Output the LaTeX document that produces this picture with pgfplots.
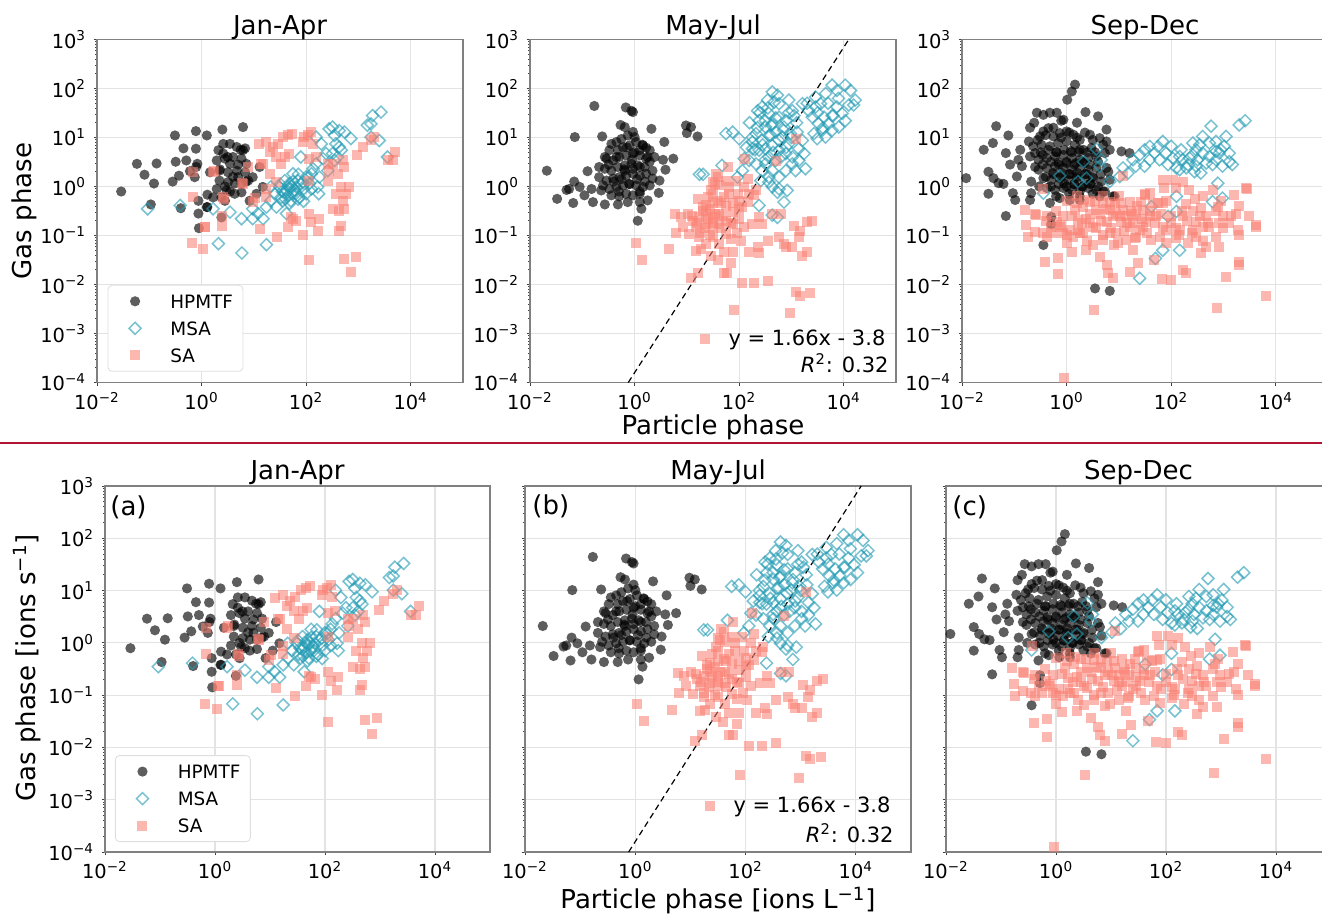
\documentclass[border=0pt]{standalone}
\usepackage{fontspec}
\setmainfont{DejaVu Sans}
\usepackage{pgfplots}
\usepackage{pgfplotstable}
\pgfplotsset{compat=1.18}

\definecolor{msacol}{RGB}{35,155,180}
\definecolor{sacol}{RGB}{250,128,114}
\definecolor{sepred}{RGB}{178,18,52}

\newcommand{\tp}[1]{10\textsuperscript{#1}}
\newcommand{\ftick}{\fontsize{9.7}{11.6}\selectfont}
\newcommand{\flab}{\fontsize{13}{15.6}\selectfont}
\newcommand{\fleg}{\fontsize{9.2}{11}\selectfont}
\newcommand{\fann}{\fontsize{10.5}{12.6}\selectfont}

% ---------- Jan-Apr ----------
\pgfplotstableread{
x y
0.029 0.79
0.058 2.9
0.081 1.74
0.123 1.15
0.138 2.95
0.107 0.43
0.31 11
0.32 3.2
0.28 1.26
0.37 1.66
0.45 6.0
0.40 0.36
0.78 13.5
0.78 5.9
1.26 11
0.51 3.4
0.83 2.9
0.74 1.55
1.29 0.68
0.87 0.51
0.87 0.28
0.89 0.141
1.29 0.38
2.5 14.5
6.2 16.3
2.4 0.234
2.1 5.5
2.6 7.4
3.5 7.4
4.7 6.4
6.2 5.5
1.95 3.4
2.8 3.7
4.0 4.0
5.8 3.7
7.2 2.9
2.2 2.1
3.2 1.95
4.7 2.1
6.8 1.95
2.2 1.32
3.2 1.23
4.3 1.15
5.8 1.15
7.8 1.32
1.95 0.89
3.0 0.83
4.3 0.71
5.8 0.76
2.8 0.51
8.3 0.51
11.2 0.71
14.8 0.98
9.5 1.55
12.9 2.5
1.45 1.95
1.66 0.60
0.79 2.5
0.60 2.05
1.26 0.38
3.5 2.9
2.6 4.7
5.0 1.55
2.4 0.60
6.8 6.0
2.24 2.24
3.16 4.0
4.0 1.58
5.0 2.8
7.1 1.26
2.8 1.0
5.6 5.6
3.5 0.79
}\hA
\pgfplotstableread{
x y
0.093 0.35
0.39 0.41
2.1 0.068
5.9 0.044
17.4 0.065
1.66 0.35
3.5 0.30
5.8 0.22
9.5 0.22
12 0.28
15 0.22
17.4 0.38
21 0.51
27 0.38
33 0.60
42 0.28
48 0.45
56 0.71
42 0.83
65 0.98
74 0.60
87 1.23
100 0.71
126 1.82
155 2.9
166 0.98
174 0.71
79 4.0
56 1.82
39 1.32
31 0.98
48 1.15
69 1.32
25 0.71
21 0.98
51 0.51
36 0.51
115 1.15
155 10.2
195 7.4
240 4.7
275 15
320 16.3
350 11
430 13.8
540 12.9
720 9.5
370 7.4
320 4.7
470 5.5
350 3.4
430 6.4
210 3.7
135 2.3
1480 17.8
1740 19
1860 28
2700 33
2500 8.7
3600 4.0
1740 10.2
400 4.0
260 2.1
180 1.55
9.5 0.35
45 0.65
60 0.85
52 1.0
38 0.75
70 0.55
90 0.9
110 1.5
35 0.79
45 1.0
56 1.26
40 0.56
63 0.71
50 0.89
79 1.12
100 1.58
71 1.78
32 1.12
126 0.89
89 0.50
}\mA
\pgfplotstableread{
x y
0.66 0.069
1.07 0.054
0.69 1.95
0.68 0.60
1.17 0.148
1.66 1.95
2.5 0.158
2.5 0.245
2.7 0.56
6.2 1.15
7.8 2.5
9.5 0.48
12.9 0.135
12.3 7.2
15 2.9
17.4 8.1
20 5.0
20 1.82
23 6.4
29 7.4
36 10.2
45 11
54 12
27 4.0
33 2.9
39 4.0
48 4.7
27 1.23
17.4 0.60
28 0.095
45 0.148
56 0.22
65 0.20
87 0.10
115 0.28
126 0.19
166 0.126
174 0.22
115 0.031
115 1.32
87 8.1
107 11
126 12.9
93 10.2
135 7.4
155 4.0
260 2.9
275 2.1
320 2.9
260 1.32
400 1.82
500 3.4
540 2.5
370 0.71
470 0.98
580 0.71
670 0.98
500 0.51
320 0.35
430 0.32
540 0.35
470 0.158
430 0.126
540 0.033
890 0.037
720 0.018
950 4.3
1200 6.4
1740 8.7
2000 10.2
3600 3.4
4500 3.4
5100 5.0
115 3.7
6.0 1.17
10.5 0.58
1.15 0.15
2.6 0.62
1.74 2.1
13.8 2.9
17.4 0.89
51 0.234
}\sA

% ---------- May-Jul ----------
\pgfplotstableread{
x y
0.021 2.1
0.033 0.56
0.050 0.85
0.056 0.89
0.067 0.46
0.072 10.2
0.070 1.26
0.089 0.98
0.11 0.66
0.126 2.05
0.16 0.48
0.17 44
0.15 0.89
0.24 10.5
0.23 0.83
0.27 0.43
0.21 2.5
0.27 4.0
0.36 7.4
0.48 0.43
0.54 18
0.68 41
0.87 35
0.93 33
0.65 16.3
0.93 13
1.26 0.48
1.15 0.20
1.35 0.35
1.78 0.52
2.1 15
2.9 0.74
3.0 1.32
3.9 2.2
3.7 8.1
3.5 3.5
5.5 3.7
9.6 17.6
12 16.3
10 12.3
16 10.5
1.66 6.2
2.2 2.1
0.33 5.5
0.45 8.1
0.60 6.3
0.80 6.9
1.07 8.1
1.45 6.9
1.95 5.5
2.4 4.0
0.29 3.7
0.39 3.4
0.51 4.0
0.69 4.3
0.93 4.7
1.26 4.3
1.66 3.7
0.27 2.3
0.36 2.1
0.48 2.5
0.65 2.7
0.87 2.9
1.15 2.7
1.55 2.5
1.95 3.2
0.21 1.55
0.29 1.32
0.39 1.45
0.51 1.55
0.69 1.66
0.93 1.82
1.26 1.66
1.66 1.82
2.2 1.45
0.25 1.05
0.33 0.89
0.45 0.98
0.60 1.05
0.80 1.12
1.07 1.05
1.45 0.98
1.95 1.05
0.36 0.66
0.51 0.63
0.69 0.71
0.93 0.66
1.26 0.71
0.74 0.48
0.56 9.3
0.74 11
1.0 10.2
1.26 5.5
0.65 2.1
0.93 2.3
0.48 5.5
0.32 2.8
0.45 4.0
0.63 2.24
0.89 3.5
1.26 2.5
1.78 4.0
0.40 1.26
0.56 1.41
0.79 1.12
1.12 1.41
1.58 1.26
0.71 6.3
1.0 5.0
1.41 7.1
0.50 0.79
1.26 0.79
}\hB
\pgfplotstableread{
x y
17.4 1.77
20.4 1.77
47 2.7
56 12
75 12.9
100 9.4
125 3.7
138 6.3
180 5.9
240 0.41
260 1.32
370 1.23
430 0.98
540 0.76
720 0.48
830 0.83
540 0.234
225 35
430 85
540 73
580 49
370 31
240 22
320 16.3
430 19
580 26
780 22
1040 35
210 12
275 8.7
370 11
500 12.9
670 10.2
890 7.4
180 8.1
240 5.5
320 5.9
430 6.9
580 5.5
780 4.7
1040 4.0
1380 3.4
1860 2.3
1740 4.7
155 3.4
210 2.9
320 2.9
430 2.1
275 2.1
780 2.1
1040 2.9
1200 2.1
1620 8.7
1380 5.9
1290 12.9
1620 49
2150 35
2900 67
3600 49
4500 79
6000 117
7400 91
10700 117
13500 91
16600 58
15500 46
12500 46
10700 22
9300 31
7400 42
6000 28
5100 19
4200 26
3300 19
2700 12
4500 10.2
6000 14
8000 16.3
2500 26
2900 42
3900 14
3100 9.4
960 12
720 16.3
890 58
470 53
275 42
350 58
1120 28
500 3.4
370 4.0
580 1.55
370 1.55
115 2.1
93 1.55
430 0.26
580 0.89
178 10
224 15.8
282 7.1
316 22
400 11.2
447 5.0
500 25
562 8.9
708 14.1
794 6.3
891 32
1000 10
251 32
355 40
200 5.6
631 4.0
1259 20
316 3.5
158 20
417 17.8
2000 50
3162 32
5012 50
7943 63
3981 15.8
6310 28
}\mB
\pgfplotstableread{
x y
1.07 0.069
1.41 0.032
12 0.0135
16 0.017
51 0.017
59 0.017
79 0.0030
115 0.0105
195 0.0105
355 0.012
930 0.0026
1230 0.0069
1480 0.0059
2300 0.0066
1230 9.4
129 3.7
500 3.3
60 2.5
6.0 0.27
6.2 0.112
4.6 0.053
16 0.56
36 1.82
31 1.23
29 0.83
25 0.60
20 0.38
10.4 0.28
12.9 0.20
17.4 0.234
23 0.28
31 0.234
42 0.28
23 0.173
31 0.148
42 0.173
15 0.148
11.2 0.107
17.4 0.092
31 0.092
56 0.107
56 0.20
75 0.173
100 0.22
45 0.45
51 0.60
75 0.45
65 0.98
87 1.32
93 0.71
126 0.98
155 0.71
195 0.66
145 1.45
145 0.48
115 0.38
56 1.32
51 0.046
29 0.039
69 0.028
15 0.049
18.6 0.053
39 0.031
75 0.046
107 0.079
155 0.046
240 0.044
225 0.057
350 0.079
580 0.092
780 0.057
720 0.067
1040 0.057
1380 0.092
1480 0.126
1620 0.039
2000 0.046
1120 0.158
2000 0.186
2500 0.20
430 0.28
275 0.173
180 0.173
240 0.234
620 0.28
126 0.148
69 0.085
42 0.067
23 0.067
7.8 0.234
8.3 0.148
42 1.05
100 0.51
75 0.30
31 0.45
23 0.41
210 0.83
12.6 0.25
15.8 0.178
20 0.32
22 0.141
25 0.22
28 0.35
32 0.178
35 0.28
40 0.50
45 0.141
50 0.25
56 0.40
63 0.71
71 0.178
32 0.71
35 1.12
40 1.58
28 0.10
17.8 0.112
100 0.35
89 0.112
}\sB

% ---------- Sep-Dec ----------
\pgfplotstableread{
x y
0.012 1.48
0.032 0.71
0.026 5.6
0.032 2.0
0.045 17
0.039 7.7
0.040 1.48
0.050 1.17
0.062 1.13
0.069 0.25
0.069 4.8
0.077 11
0.083 2.8
0.094 0.73
0.104 0.53
0.112 1.6
0.12 3.5
0.13 5.6
0.14 2.6
0.19 8.3
0.20 0.53
0.21 1.26
0.24 20
0.27 32
0.36 29
0.31 10.5
0.36 13.3
0.25 4.8
0.35 4.4
0.48 32
0.65 32
0.87 23
1.03 59
1.26 87
1.45 120
2.3 33
4.0 27
5.8 14.5
0.45 15.5
0.56 10.5
0.74 12.3
1.0 13.3
1.35 11.4
1.79 8.9
2.8 11.4
4.3 9.7
5.8 8.3
6.7 5.6
0.23 6.6
0.33 7.1
0.48 6.6
0.69 7.7
1.0 8.3
1.44 7.1
2.1 5.6
3.0 6.1
0.20 4.1
0.29 3.5
0.42 3.8
0.60 4.1
0.87 4.4
1.26 3.8
1.79 3.5
2.6 3.8
3.7 4.1
5.4 4.8
0.29 2.2
0.42 2.4
0.60 2.6
0.87 2.4
1.26 2.2
1.79 2.4
2.6 2.2
3.7 2.4
5.8 2.4
0.36 1.48
0.51 1.37
0.74 1.48
1.07 1.37
1.55 1.48
2.2 1.37
3.2 1.48
4.6 1.26
6.7 1.37
0.42 0.93
0.60 0.85
0.87 0.93
1.26 0.85
1.79 0.79
2.6 0.93
3.7 0.85
5.4 0.79
7.7 0.63
0.74 0.58
1.15 0.53
1.79 0.53
0.48 0.46
0.51 0.24
0.36 0.064
3.5 0.0083
6.7 0.0074
0.51 0.17
4.3 0.63
8.3 0.63
11.2 5.2
16 4.8
0.21 0.73
0.55 1.9
0.8 1.9
1.15 1.8
1.6 1.9
2.4 1.8
0.7 3.1
1.0 3.0
1.5 3.0
2.2 3.0
0.65 5.0
1.2 5.3
1.7 5.0
0.9 1.15
1.4 1.1
2.0 1.0
2.9 1.15
0.3 1.0
0.28 8.9
0.40 11.2
0.56 15.8
0.79 10
1.12 12.6
1.58 10
2.24 12.6
3.16 8.9
0.32 5.0
0.45 5.6
0.63 5.0
0.89 5.6
1.26 5.0
1.78 5.6
2.5 5.0
3.5 5.0
0.35 2.8
0.50 3.2
0.71 2.8
1.0 3.2
1.41 2.8
2.0 3.2
2.8 2.8
4.0 3.2
0.40 1.58
0.56 1.78
0.79 1.58
1.12 1.78
1.58 1.58
2.24 1.78
3.16 1.58
4.5 1.78
0.50 1.0
0.71 1.12
1.0 1.0
1.41 1.12
2.0 1.0
2.8 1.12
4.0 1.0
0.63 0.63
1.12 0.71
1.78 0.63
3.16 0.71
5.0 0.79
0.2 15.8
0.25 2.5
5.0 7.1
6.3 2.0
0.79 22
1.58 20
}\hC
\pgfplotstableread{
x y
0.36 0.73
0.74 1.66
1.66 1.26
2.4 1.48
2.1 3.2
3.7 5.8
4.3 2.6
4.6 3.5
6.7 1.26
10.4 1.6
12 2.4
15 1.88
18.6 3.5
21 2.6
25 4.4
31 5.6
39 3.5
48 4.8
69 8.3
60 3.5
80 4.8
87 2.8
107 3.8
126 2.4
155 5.6
166 3.5
224 3.8
300 5.6
300 2.6
400 4.8
370 1.88
540 7.7
580 17
540 4.1
720 3.5
890 5.6
1120 10.5
960 2.6
1290 3.2
1290 4.8
1480 2.8
720 8.3
400 10.5
260 7.7
145 2.2
195 2.4
2000 18
2600 22
780 1.17
960 0.58
620 0.49
126 0.63
126 0.31
87 0.245
42 0.39
69 0.050
50 0.034
145 0.050
25 0.0134
56 6.6
39 6.6
31 2.6
100 6.6
145 4.1
260 4.4
320 3.5
470 3.0
620 2.8
830 4.8
1040 6.6
720 5.2
350 7.1
210 2.8
280 2.0
}\mC
\pgfplotstableread{
x y
0.0095 0.069
0.91 1.26e-4
3.4 0.0030
740 0.0033
6600 0.0059
4200 0.151
2800 0.89
0.36 0.89
0.16 0.33
0.17 0.165
0.18 0.095
0.26 0.26
0.25 0.12
0.39 0.029
0.69 0.035
0.69 0.016
0.42 0.245
0.50 0.15
0.42 0.095
0.56 0.11
0.74 0.15
0.87 0.245
1.0 0.069
1.15 0.13
1.26 0.047
1.02 0.51
2.2 0.53
1.44 0.33
1.66 0.21
2.1 0.11
2.4 0.050
3.2 0.064
2.8 0.18
3.7 0.33
3.7 0.14
4.3 0.037
5.8 0.025
6.2 0.017
7.7 0.0134
5.0 0.46
6.7 0.49
7.7 0.245
5.8 0.19
8.9 0.11
9.6 0.069
11.2 0.19
12 0.33
12 1.66
16 0.49
16 0.15
18.6 0.050
16 0.018
23 0.027
25 0.13
21 0.245
29 0.33
31 0.68
39 0.73
33 0.19
42 0.081
51 0.245
48 0.032
66 0.0127
69 1.37
74 0.93
107 1.37
126 0.93
69 0.46
100 0.18
80 0.13
100 0.0123
166 0.020
195 0.017
145 0.13
166 0.245
195 0.43
260 0.31
260 0.13
300 0.095
370 0.36
400 0.15
470 0.059
370 0.044
540 0.15
620 0.85
780 0.39
830 0.18
720 0.095
830 0.059
1120 0.0145
1740 0.28
1860 0.13
2000 0.10
2000 0.029
2000 0.025
1620 0.68
2700 0.93
4200 0.165
960 0.245
1290 0.18
1.55 0.63
2.1 0.39
2.8 0.49
4.3 0.28
6.7 0.33
8.3 0.43
10.4 0.245
13.8 0.245
17.4 0.31
18.6 0.18
29 0.15
39 0.245
21 0.095
13.8 0.081
6.7 0.11
5.0 0.081
3.2 0.15
2.4 0.22
1.66 0.13
1.35 0.095
0.87 0.11
0.65 0.19
300 0.19
470 0.245
69 0.15
60 0.095
126 0.087
210 0.069
3100 0.245
224 0.85
166 1.26
400 0.63
27 0.49
45 0.46
5.0 0.63
0.25 0.28
0.40 0.20
0.63 0.32
0.79 0.16
1.26 0.25
1.58 0.45
2.0 0.178
2.8 0.28
3.5 0.50
4.5 0.20
5.6 0.35
7.1 0.141
8.9 0.28
11.2 0.45
14.1 0.178
17.8 0.28
22 0.40
28 0.22
35 0.112
40 0.32
50 0.178
63 0.28
79 0.50
100 0.25
126 0.141
158 0.32
200 0.20
250 0.112
355 0.25
500 0.178
710 0.32
1000 0.141
1410 0.25
2000 0.40
1.0 0.10
2.5 0.079
7.9 0.063
20 0.089
79 0.071
400 0.079
0.35 0.112
10 0.63
32 0.71
280 0.56
5.0 0.10
56 0.45
890 0.50
1.78 0.112
12.6 0.126
141 0.10
}\sC

\begin{document}
\begin{tikzpicture}

% ===== upper row =====
\begin{axis}[scale only axis, anchor=south west, at={(48.5pt,266.25pt)}, width=183pt, height=171.5pt,
  xmode=log, ymode=log, xmin=1e-2, xmax=1e5, ymin=1e-4, ymax=1e3,
  xtick={1e-2,1,1e2,1e4}, xticklabels={\tp{−2},\tp{0},\tp{2},\tp{4}},
  ytick={1e-4,1e-3,1e-2,1e-1,1,1e1,1e2,1e3},
  yticklabels={\tp{−4},\tp{−3},\tp{−2},\tp{−1},\tp{0},\tp{1},\tp{2},\tp{3}},
  minor xtick={},
  minor ytick={2e-4,3e-4,4e-4,5e-4,6e-4,7e-4,8e-4,9e-4,2e-3,3e-3,4e-3,5e-3,6e-3,7e-3,8e-3,9e-3,0.02,0.03,0.04,0.05,0.06,0.07,0.08,0.09,0.2,0.3,0.4,0.5,0.6,0.7,0.8,0.9,2,3,4,5,6,7,8,9,20,30,40,50,60,70,80,90,200,300,400,500,600,700,800,900},
  tick pos=left, tick align=outside, major tick length=1.75pt, minor tick length=1pt,
  tick style={black!75, line width=0.45pt}, axis line style={black!50, line width=0.6pt},
  grid=major, major grid style={black!11, line width=0.6pt},
  tick label style={font=\ftick},
  xticklabel style={anchor=base, inner sep=0pt, yshift=-11.7pt},
  yticklabel style={anchor=east, inner sep=0pt, xshift=-3.5pt},
  legend cell align=left,
  legend style={at={(0,0)}, anchor=south west, xshift=5.3pt, yshift=5.4pt,
    draw=black!13, fill=white, rounded corners=2pt, inner xsep=10.55pt, inner ysep=2.6pt,
    row sep=2.7pt, column sep=14.65pt, font=\fleg,
    nodes={inner xsep=0pt, inner ysep=2pt, text height=6.8pt, text depth=0pt}}]
\addplot[only marks, mark=*, mark size=2.55pt, mark options={fill=black, fill opacity=0.63, draw opacity=0}] table {\hA};
\addlegendentry{\makebox[25.75pt][l]{HPMTF}}
\addplot[only marks, mark=square, mark size=2.12pt, mark options={draw=msacol, draw opacity=0.62, fill=none, line width=0.75pt, rotate=45}] table {\mA};
\addlegendentry{MSA}
\addplot[only marks, mark=square*, mark size=2.5pt, mark options={fill=sacol, fill opacity=0.56, draw opacity=0}] table {\sA};
\addlegendentry{SA}
\end{axis}

\begin{axis}[scale only axis, anchor=south west, at={(265pt,266.25pt)}, width=183pt, height=171.5pt,
  xmode=log, ymode=log, xmin=1e-2, xmax=1e5, ymin=1e-4, ymax=1e3,
  xtick={1e-2,1,1e2,1e4}, xticklabels={\tp{−2},\tp{0},\tp{2},\tp{4}},
  ytick={1e-4,1e-3,1e-2,1e-1,1,1e1,1e2,1e3},
  yticklabels={\tp{−4},\tp{−3},\tp{−2},\tp{−1},\tp{0},\tp{1},\tp{2},\tp{3}},
  minor xtick={},
  minor ytick={2e-4,3e-4,4e-4,5e-4,6e-4,7e-4,8e-4,9e-4,2e-3,3e-3,4e-3,5e-3,6e-3,7e-3,8e-3,9e-3,0.02,0.03,0.04,0.05,0.06,0.07,0.08,0.09,0.2,0.3,0.4,0.5,0.6,0.7,0.8,0.9,2,3,4,5,6,7,8,9,20,30,40,50,60,70,80,90,200,300,400,500,600,700,800,900},
  tick pos=left, tick align=outside, major tick length=1.75pt, minor tick length=1pt,
  tick style={black!75, line width=0.45pt}, axis line style={black!50, line width=0.6pt},
  grid=major, major grid style={black!11, line width=0.6pt},
  tick label style={font=\ftick},
  xticklabel style={anchor=base, inner sep=0pt, yshift=-11.7pt},
  yticklabel style={anchor=east, inner sep=0pt, xshift=-3.5pt},
  legend cell align=left,
  legend style={at={(0,0)}, anchor=west, xshift=85pt, yshift=21.75pt,
    draw=none, fill=none, inner sep=0pt, font=\fann,
    nodes={inner xsep=9.05pt, inner ysep=0pt}}]
\addplot[only marks, mark=*, mark size=2.55pt, mark options={fill=black, fill opacity=0.63, draw opacity=0}, forget plot] table {\hB};
\addplot[only marks, mark=square, mark size=2.12pt, mark options={draw=msacol, draw opacity=0.62, fill=none, line width=0.75pt, rotate=45}, forget plot] table {\mB};
\addplot[only marks, mark=square*, mark size=2.5pt, mark options={fill=sacol, fill opacity=0.56, draw opacity=0}] table {\sB};
\addlegendentry{y = 1.66x - 3.8}
\addplot[black, densely dashed, line width=0.6pt, forget plot] coordinates {(0.758,1e-4) (12480,1e3)};
\node[anchor=east, inner sep=0pt, font=\fann, xshift=179.5pt, yshift=9.75pt]
  at (axis description cs:0,0) {\textit{R}\textsuperscript{2}: 0.32};
\end{axis}

\begin{axis}[scale only axis, anchor=south west, at={(481pt,266.25pt)}, width=183pt, height=171.5pt,
  xmode=log, ymode=log, xmin=1e-2, xmax=1e5, ymin=1e-4, ymax=1e3,
  xtick={1e-2,1,1e2,1e4}, xticklabels={\tp{−2},\tp{0},\tp{2},\tp{4}},
  ytick={1e-4,1e-3,1e-2,1e-1,1,1e1,1e2,1e3},
  yticklabels={\tp{−4},\tp{−3},\tp{−2},\tp{−1},\tp{0},\tp{1},\tp{2},\tp{3}},
  minor xtick={},
  minor ytick={2e-4,3e-4,4e-4,5e-4,6e-4,7e-4,8e-4,9e-4,2e-3,3e-3,4e-3,5e-3,6e-3,7e-3,8e-3,9e-3,0.02,0.03,0.04,0.05,0.06,0.07,0.08,0.09,0.2,0.3,0.4,0.5,0.6,0.7,0.8,0.9,2,3,4,5,6,7,8,9,20,30,40,50,60,70,80,90,200,300,400,500,600,700,800,900},
  tick pos=left, tick align=outside, major tick length=1.75pt, minor tick length=1pt,
  tick style={black!75, line width=0.45pt}, axis line style={black!50, line width=0.6pt},
  grid=major, major grid style={black!11, line width=0.6pt},
  tick label style={font=\ftick},
  xticklabel style={anchor=base, inner sep=0pt, yshift=-11.7pt},
  yticklabel style={anchor=east, inner sep=0pt, xshift=-3.5pt}]
\addplot[only marks, mark=*, mark size=2.55pt, mark options={fill=black, fill opacity=0.63, draw opacity=0}] table {\hC};
\addplot[only marks, mark=square, mark size=2.12pt, mark options={draw=msacol, draw opacity=0.62, fill=none, line width=0.75pt, rotate=45}] table {\mC};
\addplot[only marks, mark=square*, mark size=2.5pt, mark options={fill=sacol, fill opacity=0.56, draw opacity=0}] table {\sC};
\end{axis}

\node[anchor=base, font=\flab] at (140pt,440pt) {Jan-Apr};
\node[anchor=base, font=\flab] at (356.5pt,440pt) {May-Jul};
\node[anchor=base, font=\flab] at (572.5pt,440pt) {Sep-Dec};
\node[anchor=base, rotate=90, font=\flab] at (15.7pt,352pt) {Gas phase};
\node[anchor=base, font=\flab] at (356.5pt,240pt) {Particle phase};

\draw[sepred, line width=1pt] (0pt,236.15pt) -- (661pt,236.15pt);

% ===== lower row =====
\begin{axis}[scale only axis, anchor=south west, at={(52.5pt,31.5pt)}, width=192.5pt, height=183pt,
  xmode=log, ymode=log, xmin=1e-2, xmax=1e5, ymin=1e-4, ymax=1e3,
  xtick={1e-2,1,1e2,1e4}, xticklabels={\tp{−2},\tp{0},\tp{2},\tp{4}},
  ytick={1e-4,1e-3,1e-2,1e-1,1,1e1,1e2,1e3},
  yticklabels={\tp{−4},\tp{−3},\tp{−2},\tp{−1},\tp{0},\tp{1},\tp{2},\tp{3}},
  minor xtick={},
  minor ytick={2e-4,3e-4,4e-4,5e-4,6e-4,7e-4,8e-4,9e-4,2e-3,3e-3,4e-3,5e-3,6e-3,7e-3,8e-3,9e-3,0.02,0.03,0.04,0.05,0.06,0.07,0.08,0.09,0.2,0.3,0.4,0.5,0.6,0.7,0.8,0.9,2,3,4,5,6,7,8,9,20,30,40,50,60,70,80,90,200,300,400,500,600,700,800,900},
  tick pos=left, tick align=outside, major tick length=1.75pt, minor tick length=1pt,
  tick style={black!75, line width=0.45pt}, axis line style={black!50, line width=0.6pt},
  grid=major, major grid style={black!11, line width=0.6pt},
  tick label style={font=\ftick},
  xticklabel style={anchor=base, inner sep=0pt, yshift=-11.7pt},
  yticklabel style={anchor=east, inner sep=0pt, xshift=-3.5pt},
  legend cell align=left,
  legend style={at={(0,0)}, anchor=south west, xshift=5pt, yshift=5pt,
    draw=black!13, fill=white, rounded corners=2pt, inner xsep=10.55pt, inner ysep=2.6pt,
    row sep=2.7pt, column sep=14.65pt, font=\fleg,
    nodes={inner xsep=0pt, inner ysep=2pt, text height=6.8pt, text depth=0pt}}]
\addplot[only marks, mark=*, mark size=2.55pt, mark options={fill=black, fill opacity=0.63, draw opacity=0}] table {\hA};
\addlegendentry{\makebox[25.75pt][l]{HPMTF}}
\addplot[only marks, mark=square, mark size=2.12pt, mark options={draw=msacol, draw opacity=0.62, fill=none, line width=0.75pt, rotate=45}] table {\mA};
\addlegendentry{MSA}
\addplot[only marks, mark=square*, mark size=2.5pt, mark options={fill=sacol, fill opacity=0.56, draw opacity=0}] table {\sA};
\addlegendentry{SA}
\node[anchor=north west, inner sep=0pt, font=\flab, xshift=2.5pt, yshift=-4.5pt]
  at (axis description cs:0,1) {(a)};
\end{axis}

\begin{axis}[scale only axis, anchor=south west, at={(262.5pt,31.5pt)}, width=193pt, height=183pt,
  xmode=log, ymode=log, xmin=1e-2, xmax=1e5, ymin=1e-4, ymax=1e3,
  xtick={1e-2,1,1e2,1e4}, xticklabels={\tp{−2},\tp{0},\tp{2},\tp{4}},
  ytick={1e-4,1e-3,1e-2,1e-1,1,1e1,1e2,1e3}, yticklabels={},
  minor xtick={},
  minor ytick={2e-4,3e-4,4e-4,5e-4,6e-4,7e-4,8e-4,9e-4,2e-3,3e-3,4e-3,5e-3,6e-3,7e-3,8e-3,9e-3,0.02,0.03,0.04,0.05,0.06,0.07,0.08,0.09,0.2,0.3,0.4,0.5,0.6,0.7,0.8,0.9,2,3,4,5,6,7,8,9,20,30,40,50,60,70,80,90,200,300,400,500,600,700,800,900},
  tick pos=left, tick align=outside, major tick length=1.75pt, minor tick length=1pt,
  tick style={black!75, line width=0.45pt}, axis line style={black!50, line width=0.6pt},
  grid=major, major grid style={black!11, line width=0.6pt},
  tick label style={font=\ftick},
  xticklabel style={anchor=base, inner sep=0pt, yshift=-11.7pt},
  legend cell align=left,
  legend style={at={(0,0)}, anchor=west, xshift=89.55pt, yshift=23pt,
    draw=none, fill=none, inner sep=0pt, font=\fann,
    nodes={inner xsep=9.55pt, inner ysep=0pt}}]
\addplot[only marks, mark=*, mark size=2.55pt, mark options={fill=black, fill opacity=0.63, draw opacity=0}, forget plot] table {\hB};
\addplot[only marks, mark=square, mark size=2.12pt, mark options={draw=msacol, draw opacity=0.62, fill=none, line width=0.75pt, rotate=45}, forget plot] table {\mB};
\addplot[only marks, mark=square*, mark size=2.5pt, mark options={fill=sacol, fill opacity=0.56, draw opacity=0}] table {\sB};
\addlegendentry{y = 1.66x - 3.8}
\addplot[black, densely dashed, line width=0.6pt, forget plot] coordinates {(0.758,1e-4) (12480,1e3)};
\node[anchor=east, inner sep=0pt, font=\fann, xshift=184.5pt, yshift=9.5pt]
  at (axis description cs:0,0) {\textit{R}\textsuperscript{2}: 0.32};
\node[anchor=north west, inner sep=0pt, font=\flab, xshift=3.5pt, yshift=-4pt]
  at (axis description cs:0,1) {(b)};
\end{axis}

\begin{axis}[scale only axis, anchor=south west, at={(473pt,31.5pt)}, width=192.5pt, height=183pt,
  xmode=log, ymode=log, xmin=1e-2, xmax=1e5, ymin=1e-4, ymax=1e3,
  xtick={1e-2,1,1e2,1e4}, xticklabels={\tp{−2},\tp{0},\tp{2},\tp{4}},
  ytick={1e-4,1e-3,1e-2,1e-1,1,1e1,1e2,1e3}, yticklabels={},
  minor xtick={},
  minor ytick={2e-4,3e-4,4e-4,5e-4,6e-4,7e-4,8e-4,9e-4,2e-3,3e-3,4e-3,5e-3,6e-3,7e-3,8e-3,9e-3,0.02,0.03,0.04,0.05,0.06,0.07,0.08,0.09,0.2,0.3,0.4,0.5,0.6,0.7,0.8,0.9,2,3,4,5,6,7,8,9,20,30,40,50,60,70,80,90,200,300,400,500,600,700,800,900},
  tick pos=left, tick align=outside, major tick length=1.75pt, minor tick length=1pt,
  tick style={black!75, line width=0.45pt}, axis line style={black!50, line width=0.6pt},
  grid=major, major grid style={black!11, line width=0.6pt},
  tick label style={font=\ftick},
  xticklabel style={anchor=base, inner sep=0pt, yshift=-11.7pt}]
\addplot[only marks, mark=*, mark size=2.55pt, mark options={fill=black, fill opacity=0.63, draw opacity=0}] table {\hC};
\addplot[only marks, mark=square, mark size=2.12pt, mark options={draw=msacol, draw opacity=0.62, fill=none, line width=0.75pt, rotate=45}] table {\mC};
\addplot[only marks, mark=square*, mark size=2.5pt, mark options={fill=sacol, fill opacity=0.56, draw opacity=0}] table {\sC};
\node[anchor=north west, inner sep=0pt, font=\flab, xshift=3pt, yshift=-4.5pt]
  at (axis description cs:0,1) {(c)};
\end{axis}

\node[anchor=base, font=\flab] at (148.75pt,217.5pt) {Jan-Apr};
\node[anchor=base, font=\flab] at (359pt,217.5pt) {May-Jul};
\node[anchor=base, font=\flab] at (569.25pt,217.5pt) {Sep-Dec};
\node[anchor=base, rotate=90, font=\flab] at (17.5pt,123.5pt) {Gas phase [ions s\textsuperscript{−1}]};
\node[anchor=base, font=\flab] at (359pt,3pt) {Particle phase [ions L\textsuperscript{−1}]};

\pgfresetboundingbox
\useasboundingbox (0pt,0pt) rectangle (661pt,457.5pt);
\end{tikzpicture}
\end{document}
